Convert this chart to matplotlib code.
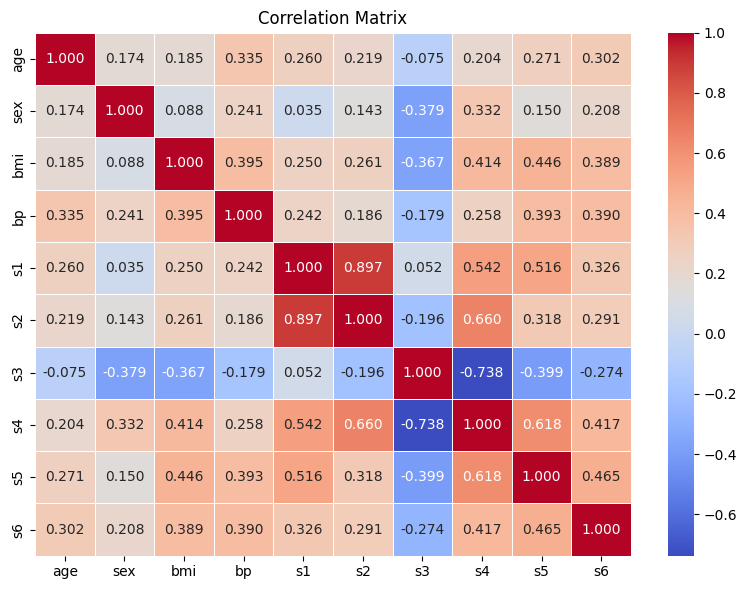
import matplotlib
matplotlib.use('Agg')
import matplotlib.pyplot as plt
import numpy as np
import pandas as pd
import seaborn as sns

labels = ['age', 'sex', 'bmi', 'bp', 's1', 's2', 's3', 's4', 's5', 's6']

row_age = [1.000, 0.174, 0.185, 0.335, 0.260, 0.219, -0.075, 0.204, 0.271, 0.302]
row_sex = [0.174, 1.000, 0.088, 0.241, 0.035, 0.143, -0.379, 0.332, 0.150, 0.208]
row_bmi = [0.185, 0.088, 1.000, 0.395, 0.250, 0.261, -0.367, 0.414, 0.446, 0.389]
row_bp = [0.335, 0.241, 0.395, 1.000, 0.242, 0.186, -0.179, 0.258, 0.393, 0.390]
row_s1 = [0.260, 0.035, 0.250, 0.242, 1.000, 0.897, 0.052, 0.542, 0.516, 0.326]
row_s2 = [0.219, 0.143, 0.261, 0.186, 0.897, 1.000, -0.196, 0.660, 0.318, 0.291]
row_s3 = [-0.075, -0.379, -0.367, -0.179, 0.052, -0.196, 1.000, -0.738, -0.399, -0.274]
row_s4 = [0.204, 0.332, 0.414, 0.258, 0.542, 0.660, -0.738, 1.000, 0.618, 0.417]
row_s5 = [0.271, 0.150, 0.446, 0.393, 0.516, 0.318, -0.399, 0.618, 1.000, 0.465]
row_s6 = [0.302, 0.208, 0.389, 0.390, 0.326, 0.291, -0.274, 0.417, 0.465, 1.000]

corr = pd.DataFrame([row_age, row_sex, row_bmi, row_bp, row_s1,
                     row_s2, row_s3, row_s4, row_s5, row_s6],
                    index=labels, columns=labels)

fig = plt.figure(figsize=(7.47, 5.9), dpi=100)
# axes placed by hand to match the reference layout
ax = fig.add_axes([0.0469, 0.0581, 0.7979, 0.8864])
cax = fig.add_axes([0.8943, 0.0581, 0.0348, 0.8864])
sns.heatmap(corr, annot=True, fmt='.3f', cmap='coolwarm', linewidths=0.5,
            linecolor='white', ax=ax, cbar_ax=cax)
ax.set_title('Correlation Matrix')

plt.savefig('out.png', dpi=100)
